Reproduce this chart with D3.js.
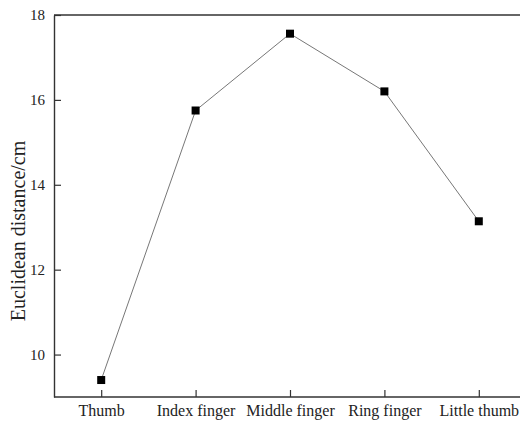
<!DOCTYPE html>
<html><head><meta charset="utf-8">
<script src="https://cdn.jsdelivr.net/npm/d3@7"></script>
<style>body{margin:0;background:#fff}svg{display:block}</style>
</head><body>
<svg id="c" width="520" height="421"></svg>
<script>
const categories = ["Thumb","Index finger","Middle finger","Ring finger","Little thumb"];
const values = [9.4, 15.75, 17.56, 16.2, 13.14];
const yTicks = [10, 12, 14, 16, 18];
const yLabel = "Euclidean distance/cm";

const svg = d3.select("#c");
const L = 54, T = 15, B = 397, R = 526;
const font = "'Liberation Serif','Times New Roman',serif";
const x = d3.scalePoint().domain(categories).range([L, R]).padding(0.5);
const y = d3.scaleLinear().domain([9, 18]).range([B, T]);

// frame
svg.append("line").attr("x1", L).attr("x2", 520).attr("y1", T).attr("y2", T)
  .attr("stroke", "#333").attr("stroke-width", 1.4);

const xa = svg.append("g").attr("transform", `translate(0,${B})`)
  .call(d3.axisBottom(x).tickSizeInner(-7).tickSizeOuter(0).tickPadding(8));
const ya = svg.append("g").attr("transform", `translate(${L},0)`)
  .call(d3.axisLeft(y).tickValues(yTicks).tickSizeInner(-7).tickSizeOuter(0).tickPadding(9));
[xa, ya].forEach(a => {
  a.select(".domain").attr("stroke", "#333").attr("stroke-width", 1.4);
  a.selectAll(".tick line").attr("stroke", "#333").attr("stroke-width", 1.2);
  a.selectAll("text").attr("font-family", font).attr("font-size", 16).attr("fill", "#222");
});
xa.select(".domain").attr("d", `M${L},0H520`);
ya.selectAll("text").attr("font-size", 15);

svg.append("text").attr("transform", `translate(25,231) rotate(-90)`)
  .attr("text-anchor", "middle").attr("font-family", font).attr("font-size", 20)
  .attr("fill", "#222").text(yLabel);

const pts = categories.map((c, i) => [x(c), y(values[i])]);
svg.append("path").attr("d", d3.line()(pts)).attr("fill", "none")
  .attr("stroke", "#777").attr("stroke-width", 1);
svg.selectAll("rect.m").data(pts).join("rect").attr("class", "m")
  .attr("x", d => d[0] - 4).attr("y", d => d[1] - 4).attr("width", 8).attr("height", 8)
  .attr("fill", "#000");
</script>
</body></html>
